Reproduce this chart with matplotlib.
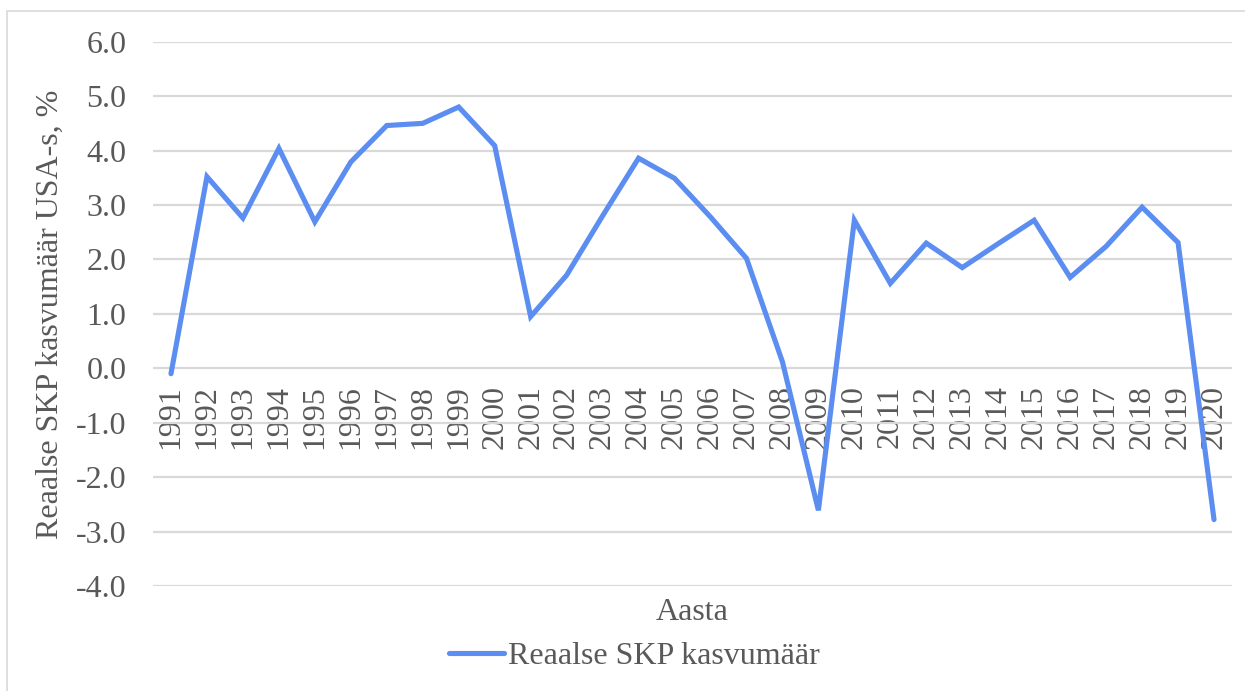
import matplotlib
matplotlib.use("Agg")
import matplotlib.pyplot as plt
from matplotlib.patches import Rectangle

years = [str(y) for y in range(1991, 2021)]
growth = [-0.1, 3.52, 2.76, 4.04, 2.69, 3.79, 4.46, 4.50, 4.80, 4.09,
          0.95, 1.71, 2.80, 3.86, 3.49, 2.78, 2.02, 0.12, -2.61, 2.72,
          1.56, 2.30, 1.85, 2.29, 2.72, 1.67, 2.24, 2.96, 2.31, -2.78]
yticks = [-4, -3, -2, -1, 0, 1, 2, 3, 4, 5, 6]

plt.rcParams['font.family'] = ['Liberation Serif', 'DejaVu Serif']
txt = '#595959'
grid = '#D9D9D9'
blue = '#5B8EF0'
fs = 23

fig = plt.figure(figsize=(12.45, 6.91), dpi=100)
W, H = 1245, 691
ax = fig.add_axes([153 / W, 1 - 586 / H, (1232 - 153) / W, (586 - 41.7) / H])

# outer chart border (runs off the right/bottom edge like in the screenshot)
fig.patches.append(Rectangle((7 / W, -0.05), 1.1, 1 - 11 / H + 0.05,
                             transform=fig.transFigure, fill=False,
                             edgecolor=grid, linewidth=1.2))

x = list(range(len(years)))
ax.plot(x, growth, color=blue, linewidth=3.7, solid_capstyle='round',
        solid_joinstyle='miter', label='Reaalse SKP kasvumäär', zorder=3)

ax.set_ylim(-4, 6)
ax.set_xlim(-0.5, len(years) - 0.5)
ax.set_yticks(yticks)
ax.set_yticklabels([f'{v:.1f}' for v in yticks], fontsize=fs, color=txt)
ax.yaxis.grid(True, color=grid, linewidth=1.6)
ax.set_axisbelow(True)
ax.tick_params(axis='y', length=0, pad=19)

ax.spines['bottom'].set_position(('data', 0))
for s in ['top', 'right', 'left', 'bottom']:
    ax.spines[s].set_visible(False)
ax.set_xticks(x)
ax.set_xticklabels(years, rotation=90, fontsize=fs, color=txt, va='top')
ax.tick_params(axis='x', length=0, pad=12)

fig.text(50 / W, 1 - 314 / H, 'Reaalse SKP kasvumäär USA-s, %', rotation=90,
         ha='center', va='center', fontsize=fs, color=txt)
fig.text(692 / W, 1 - 612 / H, 'Aasta', ha='center', va='center',
         fontsize=fs, color=txt)

leg = fig.legend(loc='center', bbox_to_anchor=(634 / W, 1 - 656 / H),
                 frameon=False, fontsize=fs, handlelength=1.75,
                 handletextpad=0.1, labelcolor=txt)

fig.savefig('out.png', dpi=100)
